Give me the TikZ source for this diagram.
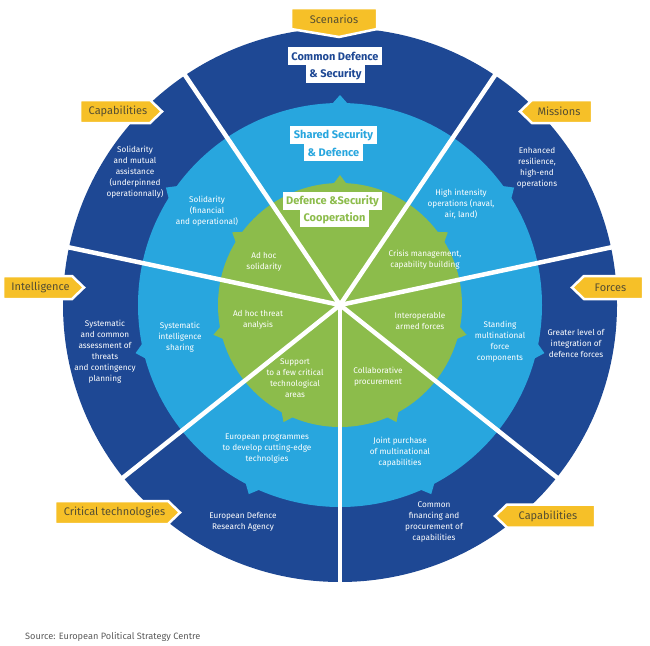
\documentclass[tikz,border=0pt]{standalone}
\usepackage{fontspec}
\setmainfont{Fira Sans}
\definecolor{navy}{RGB}{30,72,148}
\definecolor{lblue}{RGB}{40,166,222}
\definecolor{lgreen}{RGB}{140,188,75}
\definecolor{eyellow}{RGB}{246,192,40}
\definecolor{tagink}{RGB}{85,78,50}
\definecolor{srcgray}{RGB}{90,90,90}
\tikzset{
  sectext/.style={text=white, align=center, inner sep=0, font=\fontsize{8.2}{11}\selectfont},
  titlebox/.style={fill=white, inner xsep=3.5pt, inner ysep=0pt, minimum height=17.5pt, font=\bfseries\fontsize{11}{12}\selectfont},
  tag/.style={fill=eyellow, draw=white, line width=2.5pt, line join=miter},
  tagtext/.style={text=tagink, inner sep=0, font=\fontsize{11}{12}\selectfont}
}
\begin{document}
\begin{tikzpicture}[x=1pt,y=-1pt]
\useasboundingbox (0,0) rectangle (650,645);
\coordinate (c) at (340,305);
% rings
\begin{scope}[shift={(c)}]
\fill[navy] (0,0) circle (277pt);
\fill[lblue] (0,0) circle (202pt);
\foreach \a in {34,90,146,193.25,244.25,295.75,346.75}{
    \fill[lblue] (\a-2.6:200pt) -- (\a:210pt) -- (\a+2.6:200pt) -- cycle;
}
\fill[lgreen] (0,0) circle (122pt);
\foreach \a in {34,90,146,193.25,244.25,295.75,346.75}{
    \fill[lgreen] (\a-3.6:120pt) -- (\a:130pt) -- (\a+3.6:120pt) -- cycle;
}
% spokes
\foreach \a in {12,56,124,168,218.5,270,321.5}{
    \path[draw,white,line width=4.5pt] (0,0) -- (\a:279pt);
}
\end{scope}
%titles
\node[titlebox,text=navy] (cds1) at (335,56) {Common Defence};
\node[titlebox,text=navy] (cds2) at (335.5,74) {\& Security};
\node[titlebox,text=lblue] (ssd1) at (333.5,135) {Shared Security};
\node[titlebox,text=lblue] (ssd2) at (333.5,152) {\& Defence};
\node[titlebox,text=lgreen] (dsc1) at (332.5,201) {Defence \&Security};
\node[titlebox,text=lgreen] (dsc2) at (334.5,218.5) {Cooperation};
%sector texts
\node[sectext] (s1) at (135,172) {Solidarity\\and mutual\\assistance\\(underpinned\\operationnally)};
\node[sectext] (s2) at (207,211) {Solidarity\\(financial\\and operational)};
\node[sectext] (s3) at (264,262) {Ad hoc\\solidarity};
\node[sectext] (s4) at (105,352) {Systematic\\and common\\assessment of\\threats\\and contingency\\planning};
\node[sectext] (s5) at (180,337) {Systematic\\intelligence\\sharing};
\node[sectext] (s6) at (258,320) {Ad hoc threat\\analysis};
\node[sectext] (s7) at (295,378) {Support\\to a few critical\\technological\\areas};
\node[sectext] (s8) at (267,449) {European programmes\\to develop cutting-edge\\technolgies};
\node[sectext] (s9) at (243,522) {European Defence\\Research Agency};
\node[sectext] (s10) at (378,377) {Collaborative\\procurement};
\node[sectext] (s11) at (400,452) {Joint purchase\\of multinational\\capabilities};
\node[sectext] (s12) at (434,522) {Common\\financing and\\procurement of\\capabilities};
\node[sectext] (s13) at (420,321) {Interoperable\\armed forces};
\node[sectext] (s14) at (500,342) {Standing\\multinational\\force\\components};
\node[sectext] (s15) at (576,343) {Greater level of\\integration of\\defence forces};
\node[sectext] (s16) at (425,260) {Crisis management,\\capability building};
\node[sectext] (s17) at (461,204) {High intensity\\operations (naval,\\air, land)};
\node[sectext] (s18) at (537,168) {Enhanced\\resilience,\\high-end\\operations};
%labels
\path[tag] (291,8) -- (377,8) -- (377,29) -- (339,37) -- (291,29) -- cycle;
\node[tagtext] (scen) at (334,19) {Scenarios};
\foreach \n/\xa/\xb/\yc/\lab in {capa/80/150/111.5/Capabilities, intel/3/72/287.5/Intelligence, crit/55/168/512.5/Critical technologies}{
    \path[tag] (\xa,\yc-11.5) -- (\xb,\yc-11.5) -- (\xb+12,\yc) -- (\xb,\yc+11.5) -- (\xa,\yc+11.5) -- cycle;
    \node[tagtext] (\n) at (\xa/2+\xb/2+3,\yc) {\lab};
}
\foreach \n/\xa/\xb/\yc/\lab in {miss/532/592/111.5/Missions, forc/584/643/287.5/Forces, capb/507/595/516/Capabilities}{
    \path[tag] (\xb,\yc-11.5) -- (\xa,\yc-11.5) -- (\xa-12,\yc) -- (\xa,\yc+11.5) -- (\xb,\yc+11.5) -- cycle;
    \node[tagtext] (\n) at (\xa/2+\xb/2-3,\yc) {\lab};
}
\node[anchor=west,text=srcgray,inner sep=0,font=\fontsize{9.2}{10}\selectfont] (src) at (25,637) {Source: European Political Strategy Centre};
\end{tikzpicture}
\end{document}
